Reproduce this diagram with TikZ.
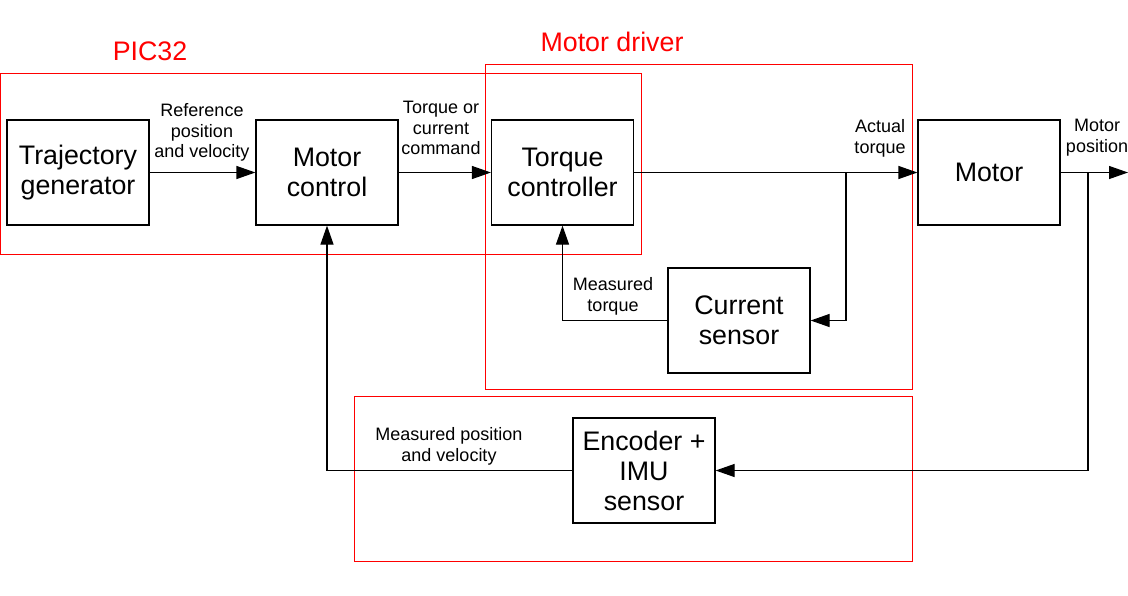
\documentclass[tikz,border=0pt]{standalone}
\usepackage{fontspec}
\setmainfont{Liberation Sans}
\usetikzlibrary{arrows.meta}
\tikzset{
  block/.style={draw, line width=0.6pt, minimum width=71pt, minimum height=52.5pt,
    align=center, inner sep=0pt, font=\fontsize{13.4}{15}\selectfont},
  lbl/.style={align=center, inner sep=0pt, anchor=north, font=\fontsize{9}{10.2}\selectfont},
  group/.style={draw=red, line width=0.5pt},
  grouplbl/.style={text=red, inner sep=0pt, font=\fontsize{13.4}{15}\selectfont},
}
\begin{document}
\begin{tikzpicture}[x=0.5pt,y=-0.5pt,>={Triangle[length=9.5pt,width=6.5pt]}, line width=0.6pt]
\useasboundingbox (0,0) rectangle (1128,595);
% groups
\draw[group] (0,73) rectangle (641,254);
\draw[group] (485,64) rectangle (912,389);
\draw[group] (354,396) rectangle (912,561);
\node[grouplbl] (pic) at (150,51) {PIC32};
\node[grouplbl] (drv) at (612,42) {Motor driver};
% blocks
\node[block] (traj) at (78,172.5) {Trajectory\\generator};
\node[block] (mctrl) at (327,172.5) {Motor\\control};
\node[block] (tctrl) at (562.5,172.5) {Torque\\controller};
\node[block] (motor) at (989,172.5) {Motor};
\node[block] (csens) at (739,320.5) {Current\\sensor};
\node[block] (enc) at (644,470.5) {Encoder +\\IMU\\sensor};
\coordinate (tq) at (846,172.5);
\coordinate (mp) at (1088,172.5);
\coordinate (out) at (1128,172.5);
% connectors
\draw[->] (traj) -- (mctrl);
\draw[->] (mctrl) -- (tctrl);
\draw[->] (tctrl) -- (motor);
\draw[->] (tq) |- (csens.east);
\draw[->] (csens.west) -| (tctrl.south);
\draw[->] (motor) -- (out);
\draw[->] (mp) |- (enc.east);
\draw[->] (enc.west) -| (mctrl.south);
% labels
\node[lbl] (l1) at (202,103) {Reference\\position\\and velocity};
\node[lbl] (l2) at (441,101) {Torque or\\current\\command};
\node[lbl] (l3) at (880,119) {Actual\\torque};
\node[lbl] (l4) at (1097,119) {Motor\\position};
\node[lbl] (l5) at (613,277) {Measured\\torque};
\node[lbl] (l6) at (449,427) {Measured position\\and velocity};
\end{tikzpicture}
\end{document}
